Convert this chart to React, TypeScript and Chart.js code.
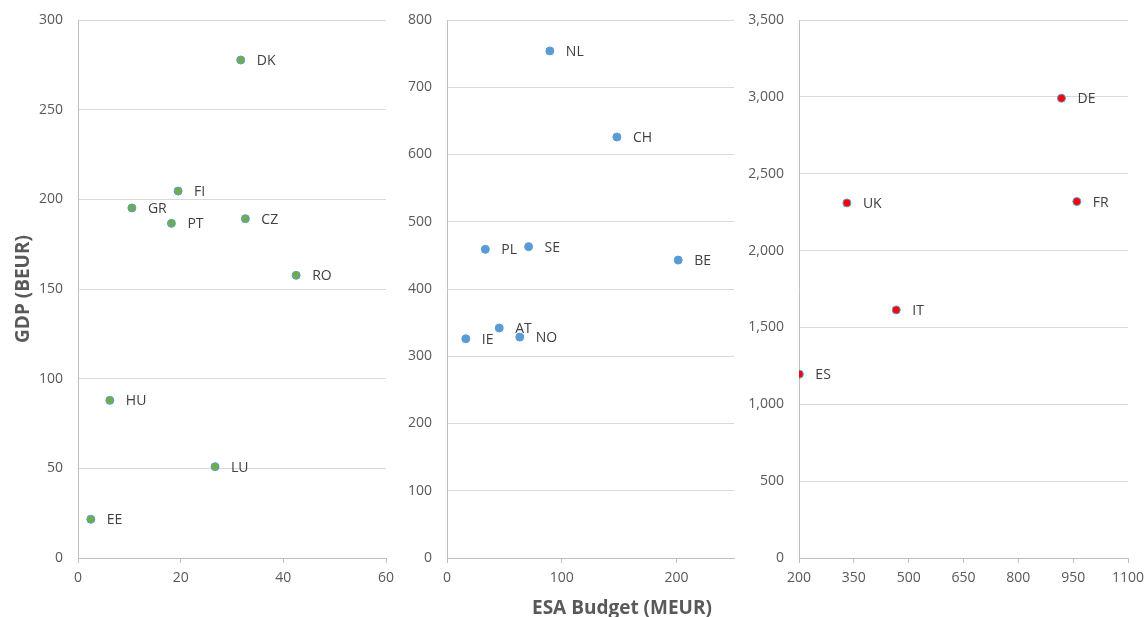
import React, { useEffect, useRef } from 'react';
import { Chart, registerables } from 'chart.js';

Chart.register(...registerables);

// ---- Data ----
const smallCountries = ['DK', 'FI', 'GR', 'PT', 'CZ', 'RO', 'HU', 'LU', 'EE'];
const smallBudget = [31.7, 19.5, 10.5, 18.2, 32.6, 42.5, 6.2, 26.7, 2.5];
const smallGdp = [277.7, 204.6, 195.2, 186.6, 189.2, 157.6, 87.9, 50.9, 21.6];

const midCountries = ['NL', 'CH', 'PL', 'SE', 'BE', 'IE', 'AT', 'NO'];
const midBudget = [89.6, 148, 33.4, 71.1, 201.4, 16.4, 45.5, 63.4];
const midGdp = [754, 626, 459, 463, 443, 326, 342, 328.5];

const largeCountries = ['DE', 'FR', 'UK', 'IT', 'ES'];
const largeBudget = [918, 960, 331, 466, 201];
const largeGdp = [2991, 2319, 2310, 1614, 1196];

const yTitle = 'GDP (BEUR)';
const xTitle = 'ESA Budget (MEUR)';

// ---- Layout ----
const W = 1145;
const H = 617;
const AREA_TOP = 20;
const AREA_BOTTOM = 558;
const FONT = "'Open Sans', sans-serif";
const TICK_COLOR = '#595959';
const AXIS_COLOR = '#bfbfbf';
const GRID_COLOR = '#d9d9d9';

type Panel = {
  left: number;
  width: number;
  areaLeft: number;
  areaRight: number;
  labels: string[];
  xs: number[];
  ys: number[];
  xMin: number;
  xMax: number;
  xStep: number;
  yMax: number;
  yStep: number;
  fill: string;
  border: string;
  title?: string;
};

const panels: Panel[] = [
  {
    left: 0, width: 395, areaLeft: 78, areaRight: 386,
    labels: smallCountries, xs: smallBudget, ys: smallGdp,
    xMin: 0, xMax: 60, xStep: 20, yMax: 300, yStep: 50,
    fill: '#70AD47', border: '#5B9BD5', title: yTitle,
  },
  {
    left: 395, width: 350, areaLeft: 52, areaRight: 339,
    labels: midCountries, xs: midBudget, ys: midGdp,
    xMin: 0, xMax: 250, xStep: 100, yMax: 800, yStep: 100,
    fill: '#5B9BD5', border: '#5B9BD5',
  },
  {
    left: 745, width: 400, areaLeft: 54, areaRight: 383,
    labels: largeCountries, xs: largeBudget, ys: largeGdp,
    xMin: 200, xMax: 1100, xStep: 150, yMax: 3500, yStep: 500,
    fill: '#FF0000', border: '#5B9BD5',
  },
];

function build(canvas: HTMLCanvasElement, p: Panel) {
  const labelPlugin = {
    id: 'pointLabels',
    afterDatasetsDraw(chart: any) {
      const ctx = chart.ctx;
      const meta = chart.getDatasetMeta(0);
      ctx.save();
      ctx.font = `14px ${FONT}`;
      ctx.fillStyle = '#404040';
      ctx.textAlign = 'left';
      ctx.textBaseline = 'middle';
      meta.data.forEach((el: any, i: number) => {
        ctx.fillText(p.labels[i], el.x + 16, el.y + 1);
      });
      ctx.restore();
    },
  };
  return new Chart(canvas, {
    type: 'scatter',
    data: {
      datasets: [
        {
          data: p.xs.map((x, i) => ({ x, y: p.ys[i] })),
          backgroundColor: p.fill,
          borderColor: p.border,
          borderWidth: 1,
          pointRadius: 4,
          pointHoverRadius: 4,
        },
      ],
    },
    options: {
      responsive: false,
      animation: false,
      events: [],
      layout: { padding: { top: AREA_TOP, right: p.width - p.areaRight, bottom: 0, left: 0 } },
      plugins: { legend: { display: false }, tooltip: { enabled: false } },
      scales: {
        x: {
          type: 'linear',
          min: p.xMin,
          max: p.xMax,
          ticks: {
            stepSize: p.xStep,
            padding: 7,
            color: TICK_COLOR,
            font: { family: FONT, size: 14 },
            maxRotation: 0,
            autoSkip: false,
            callback: (v: any) => String(v),
          },
          grid: { drawOnChartArea: false, drawTicks: true, tickLength: 5, color: AXIS_COLOR },
          border: { color: AXIS_COLOR },
          afterBuildTicks: (s: any) => {
            s.ticks = s.ticks.filter((t: any) => (t.value - p.xMin) % p.xStep === 0);
          },
          afterFit: (s: any) => {
            s.height = H - AREA_BOTTOM;
            s.paddingLeft = 0;
            s.paddingRight = 0;
          },
        },
        y: {
          type: 'linear',
          min: 0,
          max: p.yMax,
          ticks: {
            stepSize: p.yStep,
            padding: 15,
            color: TICK_COLOR,
            font: { family: FONT, size: 14 },
            callback: (v: any) => Number(v).toLocaleString('en-US'),
          },
          grid: { drawTicks: false, color: GRID_COLOR },
          border: { color: AXIS_COLOR },
          title: {
            display: !!p.title,
            text: p.title || '',
            color: TICK_COLOR,
            font: { family: FONT, size: 19, weight: 'bold' },
            padding: { top: 12, bottom: 0 },
          },
          afterFit: (s: any) => {
            s.width = p.areaLeft;
            s.paddingTop = 0;
            s.paddingBottom = 0;
          },
        },
      },
    } as any,
    plugins: [labelPlugin],
  });
}

export default function App() {
  const refs = [useRef<HTMLCanvasElement>(null), useRef<HTMLCanvasElement>(null), useRef<HTMLCanvasElement>(null)];
  useEffect(() => {
    const charts = panels.map((p, i) => build(refs[i].current as HTMLCanvasElement, p));
    return () => charts.forEach((c) => c.destroy());
  }, []);
  return (
    <div style={{ position: 'fixed', left: 0, top: 0, width: W, height: H, background: '#fff', overflow: 'hidden' }}>
      {panels.map((p, i) => (
        <canvas
          key={i}
          ref={refs[i]}
          width={p.width}
          height={H}
          style={{ position: 'absolute', left: p.left, top: 0, width: p.width, height: H, display: 'block' }}
        />
      ))}
      <div
        style={{
          position: 'absolute',
          left: 532,
          top: 596,
          fontFamily: FONT,
          fontWeight: 'bold',
          fontSize: 19,
          lineHeight: '22px',
          color: TICK_COLOR,
          whiteSpace: 'nowrap',
        }}
      >
        {xTitle}
      </div>
    </div>
  );
}
